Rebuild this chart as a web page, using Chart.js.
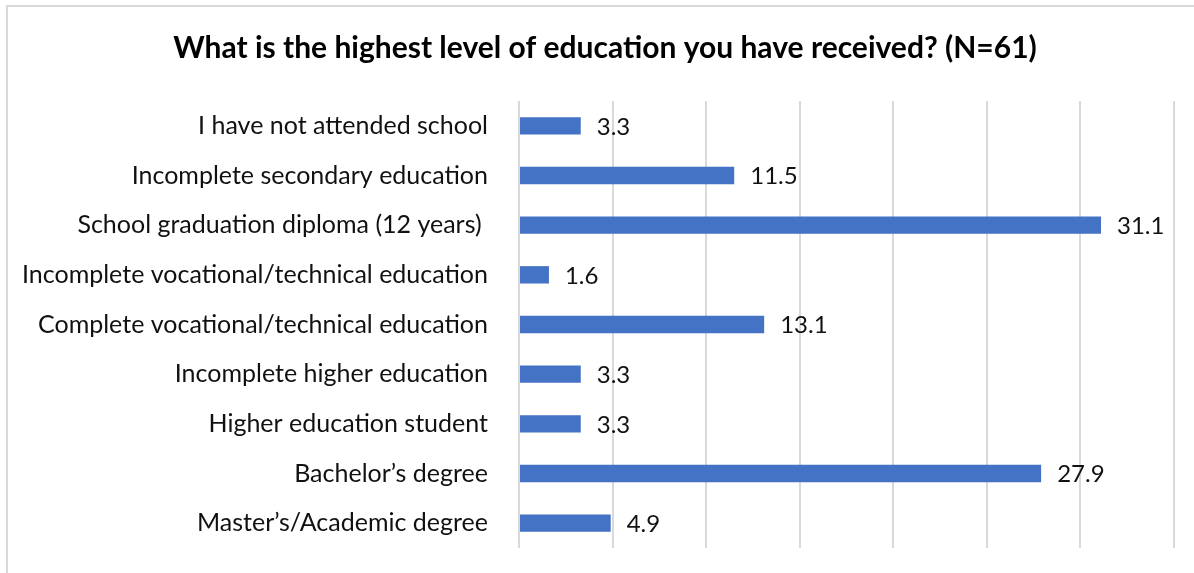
<!DOCTYPE html>
<html>
<head>
<meta charset="utf-8">
<script src="https://cdn.jsdelivr.net/npm/chart.js@4.4.1/dist/chart.umd.min.js"></script>
<style>
  html, body { margin: 0; padding: 0; background: #fff; }
  #wrap { position: relative; width: 1194px; height: 573px; }
</style>
</head>
<body>
<div id="wrap"><canvas id="chart" width="1194" height="573"></canvas></div>
<script>
// Survey answers, share of respondents in percent
const categories = [
  "I have not attended school",
  "Incomplete secondary education",
  "School graduation diploma (12 years) ",
  "Incomplete vocational/technical education",
  "Complete vocational/technical education",
  "Incomplete higher education",
  "Higher education student",
  "Bachelor\u2019s degree",
  "Master\u2019s/Academic degree"
];
const percentages = [3.3, 11.5, 31.1, 1.6, 13.1, 3.3, 3.3, 27.9, 4.9];
const titleText = "What is the highest level of education you have received? (N=61)";

const FONT = "Lato, Carlito, Calibri, 'Open Sans', sans-serif";

// Thin frame along the top and left edges of the chart box
const framePlugin = {
  id: "frame",
  beforeDraw(chart) {
    const ctx = chart.ctx;
    ctx.save();
    ctx.strokeStyle = "#d9d9d9";
    ctx.lineWidth = 2;
    ctx.beginPath();
    ctx.moveTo(7, chart.height);
    ctx.lineTo(7, 6);
    ctx.lineTo(chart.width, 6);
    ctx.stroke();
    ctx.restore();
  }
};

// Centre the title over the framed box rather than the full canvas
const titleOffset = {
  id: "titleOffset",
  afterLayout(chart) {
    if (chart.titleBlock) chart.titleBlock.left = 36;
  }
};

// Value labels written just past the end of each bar
const valueLabels = {
  id: "valueLabels",
  afterDatasetsDraw(chart) {
    const ctx = chart.ctx;
    const meta = chart.getDatasetMeta(0);
    ctx.save();
    ctx.font = "24px " + FONT;
    ctx.fillStyle = "#111";
    ctx.textAlign = "left";
    ctx.textBaseline = "middle";
    meta.data.forEach((bar, i) => {
      ctx.fillText(percentages[i].toFixed(1), bar.x + 16, bar.y + 1);
    });
    ctx.restore();
  }
};

new Chart(document.getElementById("chart"), {
  type: "bar",
  data: {
    labels: categories,
    datasets: [{
      data: percentages,
      backgroundColor: "#4472C4",
      borderWidth: 0,
      categoryPercentage: 1,
      barPercentage: 0.35
    }]
  },
  options: {
    indexAxis: "y",
    responsive: false,
    animation: false,
    events: [],
    layout: { padding: { left: 0, right: 20, top: 0, bottom: 25 } },
    plugins: {
      legend: { display: false },
      tooltip: { enabled: false },
      title: {
        display: true,
        text: titleText,
        color: "#000",
        font: { family: FONT, size: 30, weight: "bold", lineHeight: 1.2 },
        padding: { top: 30, bottom: 35 }
      }
    },
    scales: {
      x: {
        min: 0,
        max: 35,
        afterFit(scale) { scale.height = 0; },
        ticks: { display: false, stepSize: 5 },
        grid: { color: "#d9d9d9", lineWidth: 2, drawTicks: false },
        border: { display: false }
      },
      y: {
        afterFit(scale) {
          scale.width = 519;
          scale.paddingTop = 0;
          scale.paddingBottom = 0;
        },
        ticks: {
          color: "#111",
          padding: 31,
          font: { family: FONT, size: 25 }
        },
        grid: { display: false, drawTicks: false },
        border: { display: false }
      }
    }
  },
  plugins: [framePlugin, titleOffset, valueLabels]
});
</script>
</body>
</html>
